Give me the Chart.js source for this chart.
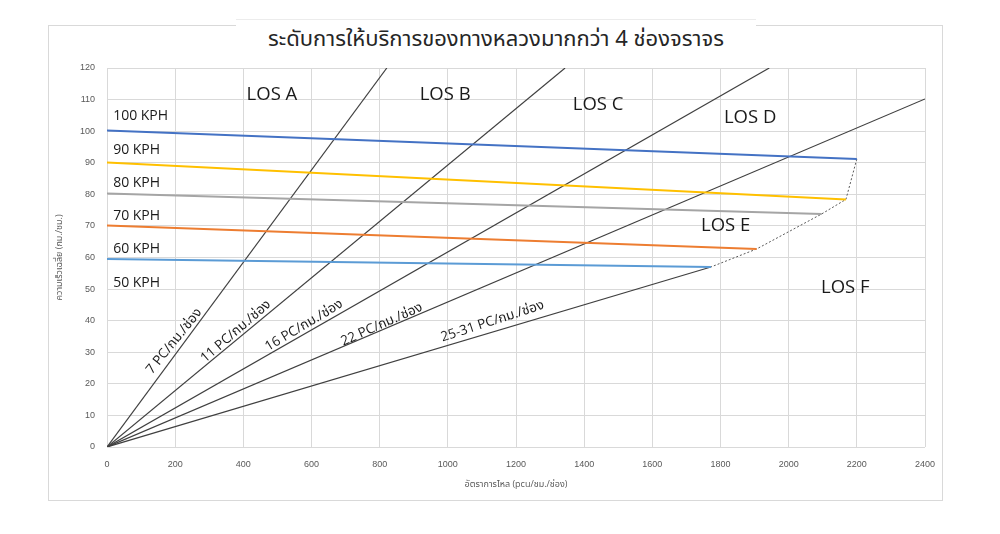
<!DOCTYPE html>
<html>
<head>
<meta charset="utf-8">
<script src="https://cdn.jsdelivr.net/npm/chart.js@4"></script>
<style>
    html, body { margin: 0; padding: 0; background: #fff; }
    #wrap { position: relative; width: 1000px; height: 534px; overflow: hidden; }
    #frame { position: absolute; left: 48px; top: 25px; width: 893px; height: 474px; border: 1px solid #d9d9d9; }
    #title {
        position: absolute; left: 236px; top: 19px; width: 520px; height: 40px;
        background: #fff; border-top: 1px solid #ececec;
        text-align: center; font: 22px "Noto Sans Thai", "Open Sans", sans-serif; color: #262626; line-height: 40px;
    }
    canvas { position: absolute; left: 0; top: 0; }
</style>
</head>
<body>
<div id="wrap">
    <div id="frame"></div>
    <canvas id="losChart" width="1000" height="534"></canvas>
    <div id="title">ระดับการให้บริการของทางหลวงมากกว่า 4 ช่องจราจร</div>
</div>
<script>
// ========================================
// LOS chart — freeways, more than 4 lanes
// ========================================

// speed-flow curves (free-flow speed -> capacity point)
const speedLabels = ['100 KPH', '90 KPH', '80 KPH', '70 KPH', '60 KPH', '50 KPH'];
const freeFlowSpeeds = [100.2, 90.1, 80.3, 70.1, 59.5];
const capacityFlows = [2200, 2168, 2097, 1906, 1772];
const capacitySpeeds = [91.2, 78.4, 73.8, 62.7, 57.0];
const speedColors = ['#4472c4', '#ffc000', '#a5a5a5', '#ed7d31', '#5b9bd5'];

// density boundary lines from origin
const densityLabels = ['7 PC/กม./ช่อง', '11 PC/กม./ช่อง', '16 PC/กม./ช่อง', '22 PC/กม./ช่อง', '25-31 PC/กม./ช่อง'];
const densityEndFlows = [821, 1344, 1943, 2400, 1772];
const densityEndSpeeds = [120, 120, 120, 110.2, 57.0];

const losLabels = ['LOS A', 'LOS B', 'LOS C', 'LOS D', 'LOS E', 'LOS F'];

const xTicks = [0, 200, 400, 600, 800, 1000, 1200, 1400, 1600, 1800, 2000, 2200, 2400];
const yTicks = [0, 10, 20, 30, 40, 50, 60, 70, 80, 90, 100, 110, 120];

// where the texts sit (data coordinates)
const losAt = [[484, 111.5], [992, 111.5], [1441, 108.3], [1887, 104.2], [1815, 70], [2166, 50.3]];
const speedAt = [[18, 104.8], [18, 94.0], [18, 83.6], [18, 73.2], [18, 62.7], [18, 51.9]];
const densityAt = [[197, 33.5], [378, 36.6], [578, 38.5], [806, 38.8], [1131, 39.8]];
const densityTilt = [-51, -41, -31, -24, -18];

const THAI = '"Open Sans", "Noto Sans Thai", sans-serif';

const datasets = [];
speedColors.forEach((c, i) => {
    datasets.push({
        data: [{ x: 0, y: freeFlowSpeeds[i] }, { x: capacityFlows[i], y: capacitySpeeds[i] }],
        borderColor: c, borderWidth: 2, showLine: true, pointRadius: 0
    });
});
densityEndFlows.forEach((f, i) => {
    datasets.push({
        data: [{ x: 0, y: 0 }, { x: f, y: densityEndSpeeds[i] }],
        borderColor: '#404040', borderWidth: 1.2, showLine: true, pointRadius: 0
    });
});
datasets.push({
    data: capacityFlows.map((f, i) => ({ x: f, y: capacitySpeeds[i] })),
    borderColor: '#595959', borderWidth: 1, borderDash: [2, 2], showLine: true, pointRadius: 0
});

const textPlugin = {
    id: 'losTexts',
    afterDatasetsDraw(chart) {
        const { ctx, scales: { x, y } } = chart;
        ctx.save();
        ctx.fillStyle = '#1a1a1a';
        ctx.textBaseline = 'middle';

        ctx.font = '18.5px ' + THAI;
        ctx.textAlign = 'center';
        losLabels.forEach((t, i) => ctx.fillText(t, x.getPixelForValue(losAt[i][0]), y.getPixelForValue(losAt[i][1])));

        ctx.font = '14px ' + THAI;
        ctx.textAlign = 'left';
        speedLabels.forEach((t, i) => ctx.fillText(t, x.getPixelForValue(speedAt[i][0]), y.getPixelForValue(speedAt[i][1])));

        ctx.font = '13.5px ' + THAI;
        ctx.textAlign = 'center';
        densityLabels.forEach((t, i) => {
            ctx.save();
            ctx.translate(x.getPixelForValue(densityAt[i][0]), y.getPixelForValue(densityAt[i][1]));
            ctx.rotate(densityTilt[i] * Math.PI / 180);
            ctx.fillText(t, 0, 0);
            ctx.restore();
        });
        ctx.restore();
    }
};

new Chart(document.getElementById('losChart'), {
    type: 'scatter',
    data: { datasets: datasets },
    options: {
        responsive: false,
        animation: false,
        layout: { padding: { left: 54, right: 75, top: 68, bottom: 40 } },
        plugins: { legend: { display: false }, tooltip: { enabled: false } },
        scales: {
            x: {
                type: 'linear', min: 0, max: 2400,
                afterBuildTicks: s => { s.ticks = xTicks.map(v => ({ value: v })); },
                afterFit: s => { s.height = 47; },
                grid: { color: '#d9d9d9', drawTicks: false },
                border: { display: false },
                ticks: { color: '#595959', font: { family: 'Liberation Sans', size: 9 }, padding: 12, maxRotation: 0, callback: v => String(v) },
                title: { display: true, text: 'อัตราการไหล (pcu/ชม./ช่อง)', color: '#595959', font: { family: THAI, size: 9 }, padding: { top: 4 } }
            },
            y: {
                type: 'linear', min: 0, max: 120,
                afterBuildTicks: s => { s.ticks = yTicks.map(v => ({ value: v })); },
                afterFit: s => { s.width = 53; },
                grid: { color: '#d9d9d9', drawTicks: false },
                border: { display: false },
                ticks: { color: '#595959', font: { family: 'Liberation Sans', size: 9 }, padding: 12, callback: v => String(v) },
                title: { display: true, text: 'ความเร็วเฉลี่ย (กม./ชม.)', color: '#595959', font: { family: THAI, size: 9 }, padding: 0 }
            }
        }
    },
    plugins: [textPlugin]
});
</script>
</body>
</html>
